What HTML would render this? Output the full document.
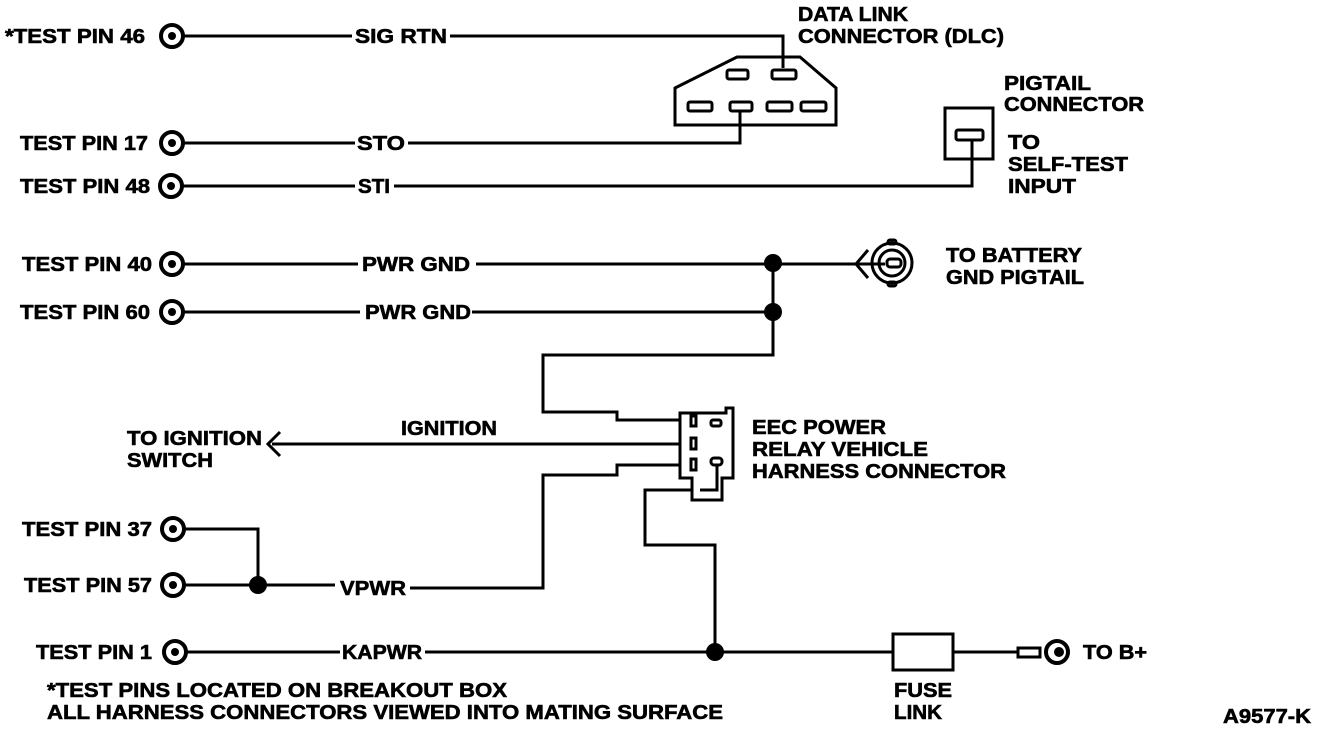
<!DOCTYPE html>
<html><head><meta charset="utf-8"><style>
html,body{margin:0;padding:0;background:#fff;}
svg{display:block;}
text{font-family:"Liberation Sans",sans-serif;font-weight:bold;font-size:20px;fill:#000;stroke:#000;stroke-width:0.6px;}
</style></head><body>
<svg width="1328" height="730" viewBox="0 0 1328 730" xmlns="http://www.w3.org/2000/svg">
<g fill="none" stroke="#000" stroke-width="3">
<!-- pins -->
<g stroke-width="4">
<circle cx="172" cy="36" r="11"/><circle cx="172" cy="143" r="11"/><circle cx="171" cy="186" r="11"/>
<circle cx="172" cy="264" r="11"/><circle cx="172" cy="312" r="11"/><circle cx="173" cy="529" r="11"/>
<circle cx="173" cy="585" r="11"/><circle cx="175" cy="652" r="11"/>
</g>
<!-- wires -->
<polyline points="184,36 352,36"/><polyline points="450,36 783,36 783,68"/>
<polyline points="183,143 355,143"/><polyline points="408,143 740,143 740,110"/>
<polyline points="182,186 355,186"/><polyline points="394,186 972,186 972,140"/>
<polyline points="184,264 358,264"/><polyline points="476,264 858,264"/>
<polyline points="184,312 360,312"/><polyline points="472,312 773,312"/>
<polyline points="773,263 773,355 543,355 543,412 617,412 617,420 681,420"/>
<polyline points="272,444 681,444"/>
<polyline points="280,432 268,444 280,456"/>
<polyline points="681,465 617,465 617,475 543,475 543,588 410,588"/>
<polyline points="185,529 258,529 258,585"/>
<polyline points="185,585 335,585"/>
<polyline points="187,652 340,652"/><polyline points="425,652 893,652"/>
<polyline points="953,652 1018,652"/>
<polyline points="692,490 645,490 645,545 715,545 715,652"/>
<!-- DLC -->
<polygon points="675,88 737,57 800,57 836,88 836,125 675,125"/>
<rect x="727" y="70" width="21" height="9" rx="2"/><rect x="772" y="70" width="24" height="9" rx="2"/>
<rect x="688" y="102" width="24" height="9" rx="2"/><rect x="730" y="102" width="22" height="9" rx="2"/>
<rect x="767" y="102" width="25" height="9" rx="2"/><rect x="801" y="102" width="25" height="9" rx="2"/>
<!-- pigtail -->
<rect x="945" y="108" width="48" height="51"/>
<rect x="956" y="130" width="27" height="10" rx="2"/>
<!-- battery gnd -->
<polyline points="868,250 856,264 868,278"/>
<circle cx="892" cy="263" r="20"/><circle cx="892" cy="263" r="13"/>
<line x1="858" y1="264" x2="885" y2="264"/>
<rect x="887" y="259" width="14" height="8" rx="3"/>
<rect x="888" y="240" width="8" height="4" rx="2"/><rect x="888" y="282" width="8" height="4" rx="2"/>
<!-- relay -->
<polygon points="680,413 726,413 726,408 733,408 733,478 722,478 722,500 692,500 692,478 680,478"/>
<rect x="691" y="416" width="5" height="10"/><rect x="691" y="438" width="5" height="11"/><rect x="691" y="459" width="5" height="11"/>
<rect x="711" y="420" width="10" height="6" rx="2"/><rect x="711" y="458" width="11" height="7" rx="3"/>
<polyline points="717,465 717,490 700,490"/>
<!-- fuse -->
<rect x="893" y="634" width="60" height="36"/>
<rect x="1018" y="648" width="22" height="9"/>
<circle cx="1057" cy="652" r="11" stroke-width="4"/>
</g>
<g fill="#000">
<circle cx="172" cy="36" r="4"/><circle cx="172" cy="143" r="4"/><circle cx="171" cy="186" r="4"/>
<circle cx="172" cy="264" r="4"/><circle cx="172" cy="312" r="4"/><circle cx="173" cy="529" r="4"/>
<circle cx="173" cy="585" r="4"/><circle cx="175" cy="652" r="4"/>
<circle cx="773" cy="263" r="9"/><circle cx="773" cy="312" r="9"/>
<circle cx="258" cy="585" r="9"/><circle cx="715" cy="652" r="9"/>
<circle cx="1059" cy="652" r="5"/>
</g>
<text x="5" y="43" textLength="140" lengthAdjust="spacingAndGlyphs">*TEST PIN 46</text>
<text x="20" y="150" textLength="128" lengthAdjust="spacingAndGlyphs">TEST PIN 17</text>
<text x="20" y="193" textLength="130" lengthAdjust="spacingAndGlyphs">TEST PIN 48</text>
<text x="22" y="271" textLength="130" lengthAdjust="spacingAndGlyphs">TEST PIN 40</text>
<text x="20" y="319" textLength="130" lengthAdjust="spacingAndGlyphs">TEST PIN 60</text>
<text x="22" y="536" textLength="130" lengthAdjust="spacingAndGlyphs">TEST PIN 37</text>
<text x="24" y="592" textLength="128" lengthAdjust="spacingAndGlyphs">TEST PIN 57</text>
<text x="36" y="659" textLength="116" lengthAdjust="spacingAndGlyphs">TEST PIN 1</text>
<text x="355" y="43" textLength="92" lengthAdjust="spacingAndGlyphs">SIG RTN</text>
<text x="357" y="150" textLength="48" lengthAdjust="spacingAndGlyphs">STO</text>
<text x="358" y="193" textLength="32" lengthAdjust="spacingAndGlyphs">STI</text>
<text x="362" y="271" textLength="108" lengthAdjust="spacingAndGlyphs">PWR GND</text>
<text x="365" y="319" textLength="106" lengthAdjust="spacingAndGlyphs">PWR GND</text>
<text x="401" y="435" textLength="96" lengthAdjust="spacingAndGlyphs">IGNITION</text>
<text x="340" y="595" textLength="66" lengthAdjust="spacingAndGlyphs">VPWR</text>
<text x="342" y="659" textLength="80" lengthAdjust="spacingAndGlyphs">KAPWR</text>
<text x="127" y="445" textLength="135" lengthAdjust="spacingAndGlyphs">TO IGNITION</text>
<text x="127" y="467" textLength="86" lengthAdjust="spacingAndGlyphs">SWITCH</text>
<text x="798" y="21" textLength="110" lengthAdjust="spacingAndGlyphs">DATA LINK</text>
<text x="798" y="43" textLength="206" lengthAdjust="spacingAndGlyphs">CONNECTOR (DLC)</text>
<text x="1004" y="90" textLength="87" lengthAdjust="spacingAndGlyphs">PIGTAIL</text>
<text x="1004" y="111" textLength="140" lengthAdjust="spacingAndGlyphs">CONNECTOR</text>
<text x="1008" y="149" textLength="32" lengthAdjust="spacingAndGlyphs">TO</text>
<text x="1008" y="171" textLength="120" lengthAdjust="spacingAndGlyphs">SELF-TEST</text>
<text x="1008" y="193" textLength="68" lengthAdjust="spacingAndGlyphs">INPUT</text>
<text x="946" y="262" textLength="136" lengthAdjust="spacingAndGlyphs">TO BATTERY</text>
<text x="946" y="284" textLength="138" lengthAdjust="spacingAndGlyphs">GND PIGTAIL</text>
<text x="752" y="434" textLength="134" lengthAdjust="spacingAndGlyphs">EEC POWER</text>
<text x="752" y="456" textLength="176" lengthAdjust="spacingAndGlyphs">RELAY VEHICLE</text>
<text x="752" y="478" textLength="254" lengthAdjust="spacingAndGlyphs">HARNESS CONNECTOR</text>
<text x="1083" y="659" textLength="64" lengthAdjust="spacingAndGlyphs">TO B+</text>
<text x="894" y="697" textLength="58" lengthAdjust="spacingAndGlyphs">FUSE</text>
<text x="894" y="719" textLength="48" lengthAdjust="spacingAndGlyphs">LINK</text>
<text x="47" y="697" textLength="460" lengthAdjust="spacingAndGlyphs">*TEST PINS LOCATED ON BREAKOUT BOX</text>
<text x="47" y="719" textLength="676" lengthAdjust="spacingAndGlyphs">ALL HARNESS CONNECTORS VIEWED INTO MATING SURFACE</text>
<text x="1223" y="723" textLength="88" lengthAdjust="spacingAndGlyphs">A9577-K</text>
</svg>
</body></html>
